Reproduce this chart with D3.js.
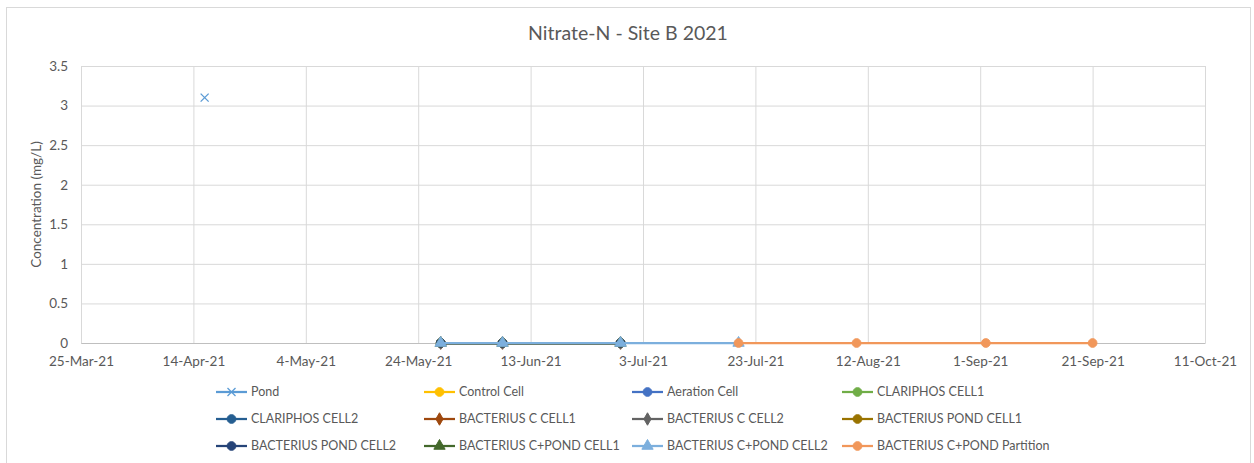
<!DOCTYPE html>
<html>
<head>
<meta charset="utf-8">
<script src="https://cdn.jsdelivr.net/npm/d3@7"></script>
<style>
  body { margin: 0; background: #fff; }
  text { font-family: Lato, "Open Sans", sans-serif; fill: #595959; }
</style>
</head>
<body>
<div id="chart"></div>
<script>
// data
let seriesNames = ['Pond', 'Control Cell', 'Aeration Cell', 'CLARIPHOS CELL1',
	'CLARIPHOS CELL2', 'BACTERIUS C CELL1', 'BACTERIUS C CELL2', 'BACTERIUS POND CELL1',
	'BACTERIUS POND CELL2', 'BACTERIUS C+POND CELL1', 'BACTERIUS C+POND CELL2', 'BACTERIUS C+POND Partition'];
let seriesColors = ['#5b9bd5', '#ffc000', '#4472c4', '#70ad47', '#255e91', '#9e480e',
	'#636363', '#997300', '#264478', '#43682b', '#7cafdd', '#f1975a'];
let seriesMarkers = ['x', 'circle', 'circle', 'circle', 'circle', 'diamond',
	'diamond', 'circle', 'circle', 'triangle', 'triangle', 'circle'];

let pondDates = ['2021-04-16'];
let pondValues = [3.1];
let cellDates = ['2021-05-28', '2021-06-08', '2021-06-29'];
let cellValues = [0, 0, 0];
let cell2Dates = ['2021-05-28', '2021-06-08', '2021-06-29', '2021-07-20'];
let cell2Values = [0, 0, 0, 0];
let partitionDates = ['2021-07-20', '2021-08-10', '2021-09-02', '2021-09-21'];
let partitionValues = [0, 0, 0, 0];

let xTickDates = ['2021-03-25', '2021-04-14', '2021-05-04', '2021-05-24', '2021-06-13',
	'2021-07-03', '2021-07-23', '2021-08-12', '2021-09-01', '2021-09-21', '2021-10-11'];
let yTicks = [0, 0.5, 1, 1.5, 2, 2.5, 3, 3.5];

let parse = d3.timeParse('%Y-%m-%d');
function pts(dates, vals){
	return dates.map((d, i) => ({date: parse(d), value: vals[i]}));
}
let seriesData = seriesNames.map(function(name, i){
	if(i === 0) return pts(pondDates, pondValues);
	if(i === 10) return pts(cell2Dates, cell2Values);
	if(i === 11) return pts(partitionDates, partitionValues);
	return pts(cellDates, cellValues);
});

let width = 1254;
let height = 463;
let plot = {left: 81, right: 1205, top: 66, bottom: 343};

let svg = d3.select('#chart')
	.append('svg')
	.attr('width', width)
	.attr('height', height);

// chart border
svg.append('rect')
	.attr('x', 6.5).attr('y', 7.5)
	.attr('width', 1244).attr('height', 470)
	.attr('fill', 'none')
	.attr('stroke', '#d9d9d9');

let x = d3.scaleTime()
	.domain([parse(xTickDates[0]), parse(xTickDates[xTickDates.length - 1])])
	.range([plot.left, plot.right]);
let y = d3.scaleLinear()
	.domain([0, 3.5])
	.range([plot.bottom, plot.top]);

// gridlines
svg.append('g')
	.attr('transform', 'translate(0,' + plot.bottom + ')')
	.call(d3.axisBottom(x).tickValues(xTickDates.map(parse)).tickSize(plot.top - plot.bottom).tickFormat(''))
	.call(g => g.select('.domain').remove())
	.selectAll('line').attr('stroke', '#d9d9d9');
svg.append('g')
	.attr('transform', 'translate(' + plot.left + ',0)')
	.call(d3.axisLeft(y).tickValues(yTicks).tickSize(plot.left - plot.right).tickFormat(''))
	.call(g => g.select('.domain').remove())
	.selectAll('line').attr('stroke', '#d9d9d9');

// axes
let xAxis = svg.append('g')
	.attr('transform', 'translate(0,' + plot.bottom + ')')
	.call(d3.axisBottom(x).tickValues(xTickDates.map(parse)).tickSize(0).tickPadding(13)
		.tickFormat(d3.timeFormat('%-d-%b-%y')));
xAxis.select('.domain').attr('stroke', '#bfbfbf');
xAxis.selectAll('text').attr('font-size', 13.5).attr('fill', '#595959')
	.attr('font-family', 'Lato, sans-serif');

let yAxis = svg.append('g')
	.attr('transform', 'translate(' + plot.left + ',0)')
	.call(d3.axisLeft(y).tickValues(yTicks).tickSize(0).tickPadding(13).tickFormat(d3.format('')));
yAxis.select('.domain').remove();
yAxis.selectAll('text').attr('font-size', 13.5).attr('fill', '#595959')
	.attr('font-family', 'Lato, sans-serif');

svg.append('text')
	.attr('text-anchor', 'middle')
	.attr('transform', 'translate(41,' + (plot.top + plot.bottom) / 2 + ') rotate(-90)')
	.attr('font-size', 13.5)
	.text('Concentration (mg/L)');

svg.append('text')
	.attr('text-anchor', 'middle')
	.attr('x', 628)
	.attr('y', 40)
	.attr('font-size', 19.5)
	.text('Nitrate-N - Site B 2021');

// markers
function drawMarker(g, type, color, cx, cy){
	if(type === 'x'){
		g.append('path')
			.attr('d', 'M' + (cx - 4) + ',' + (cy - 4) + 'L' + (cx + 4) + ',' + (cy + 4)
				+ 'M' + (cx - 4) + ',' + (cy + 4) + 'L' + (cx + 4) + ',' + (cy - 4))
			.attr('stroke', color).attr('stroke-width', 1.3).attr('fill', 'none');
		return;
	}
	let sym = type === 'diamond' ? d3.symbolDiamond : type === 'triangle' ? d3.symbolTriangle : d3.symbolCircle;
	let size = type === 'diamond' ? 45 : type === 'triangle' ? 55 : 60;
	g.append('path')
		.attr('d', d3.symbol().type(sym).size(size)())
		.attr('transform', 'translate(' + cx + ',' + cy + ')')
		.attr('fill', color)
		.attr('stroke', color);
}

let line = d3.line()
	.x(d => x(d.date))
	.y(d => y(d.value));

seriesData.forEach(function(data, i){
	let g = svg.append('g').attr('class', 'series');
	if(seriesMarkers[i] !== 'x' && data.length > 1){
		g.append('path')
			.datum(data)
			.attr('d', line)
			.attr('fill', 'none')
			.attr('stroke', seriesColors[i])
			.attr('stroke-width', 2.25);
	}
	data.forEach(function(d){
		drawMarker(g, seriesMarkers[i], seriesColors[i], x(d.date), y(d.value));
	});
});

// legend
let colX = [216, 424, 632, 842];
let rowY = [392, 419, 446];
seriesNames.forEach(function(name, i){
	let lx = colX[i % 4];
	let ly = rowY[Math.floor(i / 4)];
	let g = svg.append('g');
	g.append('line')
		.attr('x1', lx).attr('x2', lx + 31)
		.attr('y1', ly).attr('y2', ly)
		.attr('stroke', seriesColors[i])
		.attr('stroke-width', 2.25);
	drawMarker(g, seriesMarkers[i], seriesColors[i], lx + 15.5, ly);
	g.append('text')
		.attr('x', lx + 35)
		.attr('y', ly)
		.attr('dy', '0.35em')
		.attr('font-size', 12.5)
		.text(name);
});
</script>
</body>
</html>
